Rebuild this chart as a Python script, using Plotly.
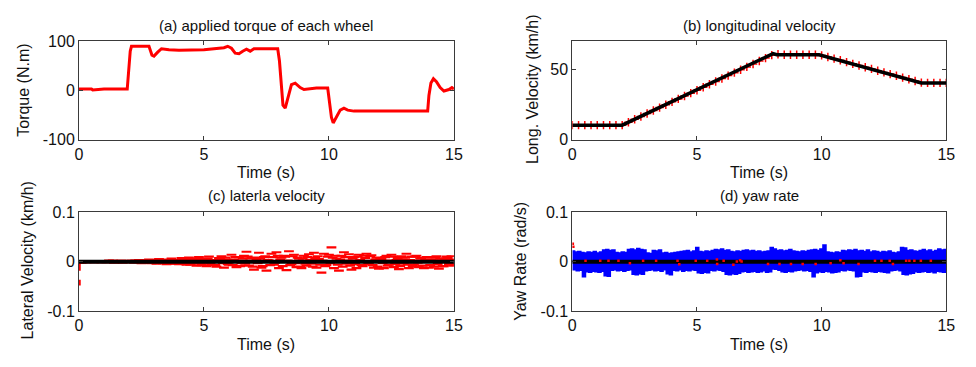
import numpy as np
import plotly.graph_objects as go

# ---------------- data ----------------
# (a) applied torque of each wheel (N.m)
torque_t = [0, 0.5, 0.55, 1.0, 1.93, 1.97, 2.0, 2.05, 2.1, 2.8, 2.92, 3.0, 3.15, 3.3, 3.6,
            4.0, 5.0, 5.6, 5.8, 5.95, 6.1, 6.25, 6.4, 6.55, 6.7, 6.85, 7.0, 7.5, 7.95, 8.02,
            8.08, 8.16, 8.25, 8.35, 8.5, 8.65, 8.85, 9.0, 9.5, 9.95, 10.02, 10.1, 10.17, 10.3,
            10.45, 10.6, 10.75, 11.0, 12.0, 13.0, 13.95, 14.0, 14.08, 14.18, 14.3, 14.45,
            14.6, 14.8, 14.92, 15.0]
torque_v = [3, 3, 1, 3, 3, 30, 45, 80, 90, 90, 72, 70, 78, 85, 83,
            82, 83, 85, 87, 90, 86, 76, 75, 80, 84, 80, 85, 85, 85, 60,
            20, -30, -36, -15, 12, 15, 6, 2, 5, 5, -20, -55, -66, -55,
            -40, -36, -40, -42, -42, -42, -42, -10, 15, 24, 18, 6,
            -1, 2, 6, 3]

# (b) longitudinal velocity (km/h): vehicle response and reference samples
vx_t = [0, 2.0, 8.05, 8.2, 9.9, 14.0, 15.0]
vx_v = [10.3, 10.3, 61.3, 60.5, 60.5, 40.4, 40.4]
vx_ref_v = [10.3, 10.3, 10.3, 10.3, 10.3, 10.3, 10.3, 10.3, 10.3,
            12.4, 14.5, 16.5, 18.6, 20.7, 22.8, 24.8, 26.9, 29.0, 31.1, 33.1, 35.2,
            37.3, 39.4, 41.4, 43.5, 45.6, 47.7, 49.8, 51.8, 53.9, 56.0, 58.1, 60.2,
            60.8, 60.5, 60.5, 60.5, 60.5, 60.5, 60.5,
            60.0, 58.9, 57.7, 56.5, 55.2, 54.0, 52.8, 51.6, 50.4, 49.1, 47.9, 46.7,
            45.5, 44.2, 43.0, 41.8, 40.6,
            40.4, 40.4, 40.4, 40.4]
vx_ref_dt = 0.25

# (c) lateral velocity (km/h): estimated samples every 0.1 s, in 1e-3 km/h
lat_milli = [-2, -2, 1, -1, 1, 0, -1, 1, 0, -1,
             1, -1, 2, 0, -2, 1, 0, 2, -1, 1,
             0, 2, -2, 1, 3, -3, 2, -2, 4, -3,
             3, -4, 5, -2, 4, -5, 3, 6, -4, 2,
             -5, 7, 4, -6, 8, -4, 6, -8, 9, -7,
             5, -9, 10, -6, 3, -10, 7, 11, -12, 4,
             -6, 14, 4, -11, 9, -3, 12, 20, -8, 7,
             -16, 5, 18, -12, 9, -18, 2, 16, -6, 19,
             -13, 8, 12, -17, 21, -5, 14, -11, 6, -13,
             12, -8, 15, -4, 18, -12, 5, -22, 16, -7,
             14, 29, -13, 6, -18, 12, 19, -4, 15, -16,
             9, -13, 14, -7, 12, 16, -5, 13, -12, 8,
             -14, 5, -13, 12, -6, 14, -11, 3, -15, 11,
             -4, 16, -13, 10, -6, 12, -11, 7, -13, 9,
             -12, 4, -10, 11, -14, 6, -9, 10, -5, 11,
             -8]
# intermediate samples, offset by 0.05 s
lat_milli_mid = [1, -1, 0, 1, -1, 0, 1, 0, -1, 1,
                 0, 1, -1, 2, 0, -1, 1, -2, 1, 0,
                 1, -1, 2, -1, 0, 2, -2, 1, -1, 3,
                 -2, 1, 3, -3, 2, 0, -4, 1, 3, -2,
                 2, -3, 5, -1, -6, 3, 1, 5, -3, 4,
                 -2, 6, -4, 3, -7, 2, 5, -3, 8, -5,
                 3, -7, 9, 1, -9, 6, -4, 10, 2, -10,
                 8, -3, 6, -9, 11, 3, -7, 9, -2, 12,
                 4, -9, 10, 2, -7, 11, -3, 8, -10, 6,
                 -4, 9, 3, -10, 7, 11, -6, 2, -9, 10,
                 -3, 8, 12, -6, 4, -10, 9, 2, -8, 6,
                 -5, 10, 3, -9, 7, -2, 11, -7, 4, -10,
                 6, -3, 9, -8, 2, 10, -5, 7, -9, 4,
                 8, -6, 3, -9, 10, -2, 6, -8, 4, 9,
                 -7, 2, 8, -5, 6, -9, 3, 7, -6, 4]
lat_dt = 0.1
lat_start_t = [0.03, 0.03]
lat_start_v = [0.0, -0.048]

# (d) yaw rate (rad/s): sensor upper/lower swings every 0.125 s, in 1e-3 rad/s
yaw_hi_milli = [20, 18, 19, 17, 16, 18, 17, 19,
                16, 18, 22, 23, 21, 22, 17, 16,
                18, 17, 23, 24, 22, 25, 23, 22,
                16, 15, 21, 20, 22, 16, 17, 15,
                16, 17, 18, 19, 20, 21, 18, 20,
                27, 19, 18, 20, 19, 21, 23, 22,
                24, 21, 22, 19, 18, 20, 19, 21,
                22, 20, 21, 19, 20, 18, 19, 20,
                27, 24, 21, 22, 20, 21, 23, 20,
                19, 18, 20, 19, 21, 22, 23, 21,
                24, 32, 18, 17, 16, 18, 17, 21,
                20, 22, 21, 23, 20, 21, 19, 22,
                18, 20, 19, 17, 19, 18, 20, 17,
                16, 18, 27, 26, 21, 22, 20, 19,
                21, 23, 20, 22, 19, 21, 24, 22,
                23]
yaw_lo_milli = [-15, -17, -16, -29, -19, -20, -18, -19,
                -20, -18, -27, -28, -16, -15, -17, -16,
                -18, -16, -15, -24, -25, -23, -24, -17,
                -16, -15, -17, -16, -18, -15, -23, -25,
                -16, -17, -15, -18, -16, -17, -15, -16,
                -21, -22, -20, -21, -16, -17, -15, -16,
                -18, -24, -25, -23, -24, -22, -19, -18,
                -20, -19, -18, -20, -19, -17, -20, -19,
                -13, -14, -16, -19, -20, -18, -19, -17,
                -16, -15, -17, -16, -18, -29, -21, -19,
                -20, -18, -19, -21, -20, -19, -16, -17,
                -15, -16, -17, -29, -28, -19, -20, -18,
                -19, -20, -18, -19, -20, -21, -17, -16,
                -15, -17, -24, -25, -23, -22, -19, -20,
                -19, -18, -20, -19, -21, -18, -19, -20,
                -18]
yaw_est_t = [0.02, 0.04, 0.53, 1.12, 1.45, 1.85, 2.31, 2.84, 3.36, 4.22, 4.29, 4.95,
             5.41, 5.80, 5.81, 6.07, 6.46, 6.60, 6.73, 6.79, 7.85, 8.31, 8.77, 9.24,
             9.76, 10.36, 10.75, 10.88, 11.48, 12.14, 12.40, 12.73, 12.86, 13.39,
             13.52, 13.72, 13.98, 14.38]
yaw_est_v = [0.036, 0.030, 0.002, 0.002, 0.002, 0.002, -0.003, 0.002, 0.002, 0.002,
             -0.005, 0.002, 0.002, 0.0045, -0.0045, 0.002, -0.006, 0.0006, 0.003,
             0.0006, -0.0045, -0.0045, -0.0045, -0.0045, -0.0045, -0.003, 0.003,
             -0.003, -0.0045, 0.002, 0.002, 0.002, -0.0045, 0.002, 0.002, 0.002,
             0.002, 0.002]

time_ticks = [0, 5, 10, 15]
time_labels = ["0", "5", "10", "15"]

# ---------------- figure ----------------
W, H = 976, 367
FONT = "Liberation Sans, Arial, sans-serif"
RED, BLUE, BLACK = "#ff0000", "#0000ff", "#000000"

def px_x(x):
    return x / W

def px_y(y):
    return 1 - y / H

fig = go.Figure()

# (a)
fig.add_trace(go.Scatter(x=torque_t, y=torque_v, mode="lines",
                         line=dict(color=RED, width=3), xaxis="x", yaxis="y"))

# (b)
vx_ref_t = [i * vx_ref_dt for i in range(len(vx_ref_v))]
fig.add_trace(go.Scatter(x=vx_ref_t, y=vx_ref_v, mode="markers",
                         marker=dict(symbol="cross-thin", size=6,
                                     line=dict(color=RED, width=1.5)),
                         xaxis="x2", yaxis="y2"))
fig.add_trace(go.Scatter(x=vx_t, y=vx_v, mode="lines",
                         line=dict(color=BLACK, width=3.5), xaxis="x2", yaxis="y2"))

# (c)
lat_t = [round(i * lat_dt, 2) for i in range(len(lat_milli))]
lat_t_mid = [round(i * lat_dt + lat_dt / 2, 3) for i in range(len(lat_milli_mid))]
lat_all_t = lat_t + lat_t_mid
lat_all_v = [m / 1000 for m in lat_milli + lat_milli_mid]
fig.add_trace(go.Scatter(x=lat_start_t, y=lat_start_v, mode="lines",
                         line=dict(color=RED, width=2, dash="dash"),
                         xaxis="x3", yaxis="y3"))
fig.add_trace(go.Scatter(x=lat_all_t, y=lat_all_v, mode="markers",
                         marker=dict(symbol="line-ew", size=7,
                                     line=dict(color=RED, width=2.2)),
                         xaxis="x3", yaxis="y3"))
fig.add_trace(go.Scatter(x=[0, 15], y=[0, 0], mode="lines",
                         line=dict(color=BLACK, width=4), xaxis="x3", yaxis="y3"))

# (d)
yaw_v = []
for hi, lo in zip(yaw_hi_milli, yaw_lo_milli):
    yaw_v += [hi / 1000, lo / 1000]
yaw_t = np.linspace(0, 15, len(yaw_v))
fig.add_trace(go.Scatter(x=yaw_t, y=yaw_v, mode="lines", line_shape="hv",
                         line=dict(color=BLUE, width=3), xaxis="x4", yaxis="y4"))
fig.add_trace(go.Scatter(x=[0, 15], y=[0, 0], mode="lines",
                         line=dict(color=BLACK, width=4), xaxis="x4", yaxis="y4"))
fig.add_trace(go.Scatter(x=yaw_est_t, y=yaw_est_v, mode="markers",
                         marker=dict(symbol="square", size=2.5, color=RED),
                         xaxis="x4", yaxis="y4"))

# axes
left_dom = [px_x(76), px_x(456)]
right_dom = [px_x(576), px_x(955)]
top_dom = [px_y(138), px_y(35)]
bot_dom = [px_y(318), px_y(214)]

axis_style = dict(showline=True, linecolor="#3a3a3a", linewidth=1, mirror="ticks",
                  ticks="inside", ticklen=4, tickcolor="#3a3a3a", showgrid=False,
                  zeroline=False, tickfont=dict(family=FONT, size=16, color="#111"))

def xaxis(dom, anchor):
    return dict(domain=dom, anchor=anchor, range=[0, 15], tickvals=time_ticks,
                ticktext=time_labels, **axis_style)

def yaxis(dom, anchor, rng, vals, texts):
    return dict(domain=dom, anchor=anchor, range=rng, tickvals=vals, ticktext=texts,
                **axis_style)

small_vals = [-0.1, 0, 0.1]
small_text = ["-0.1", "0", "0.1"]

fig.update_layout(
    width=W, height=H, margin=dict(l=0, r=0, t=0, b=0),
    paper_bgcolor="white", plot_bgcolor="white", showlegend=False,
    xaxis=xaxis(left_dom, "y"),
    yaxis=yaxis(top_dom, "x", [-100, 100], [-100, 0, 100], ["-100", "0", "100"]),
    xaxis2=xaxis(right_dom, "y2"),
    yaxis2=yaxis(top_dom, "x2", [0, 70], [0, 50], ["0", "50"]),
    xaxis3=xaxis(left_dom, "y3"),
    yaxis3=yaxis(bot_dom, "x3", [-0.1, 0.1], small_vals, small_text),
    xaxis4=xaxis(right_dom, "y4"),
    yaxis4=yaxis(bot_dom, "x4", [-0.1, 0.1], small_vals, small_text),
)

def label(text, x, y, angle=0, size=16):
    fig.add_annotation(text=text, x=px_x(x), y=px_y(y), xref="paper", yref="paper",
                       xanchor="center", yanchor="middle", showarrow=False,
                       textangle=angle, font=dict(family=FONT, size=size, color="#111"))

label("(a) applied torque of each wheel", 266, 18, size=15)
label("(b) longitudinal velocity", 765.5, 18, size=15)
label("(c) laterla velocity", 266, 197, size=15)
label("(d) yaw rate", 765.5, 197, size=15)
for xc, yc in [(266, 173), (765.5, 173), (266, 353), (765.5, 353)]:
    label("Time (s)", xc, yc)
label("Torque (N.m)", 19, 86, angle=-90)
label("Long. Velocity (km/h)", 535, 85, angle=-90)
label("Lateral Velocity (km/h)", 24, 265, angle=-90)
label("Yaw Rate (rad/s)", 524, 266, angle=-90)

fig.write_html("out.html")
